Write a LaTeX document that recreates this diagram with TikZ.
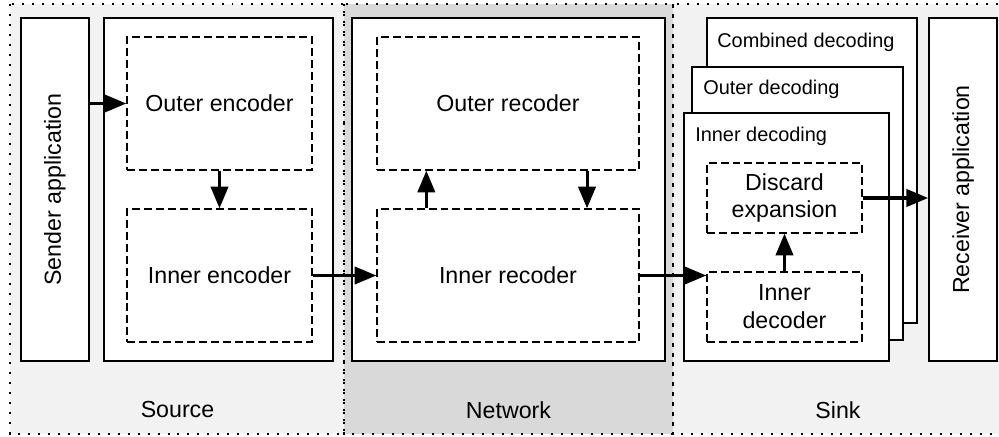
\documentclass[tikz,border=0pt]{standalone}
\usepackage{fontspec}
\setmainfont{Liberation Sans}
\usetikzlibrary{arrows.meta,calc}

\definecolor{zonelight}{HTML}{F2F2F2}
\definecolor{zonedark}{HTML}{D9D9D9}

\begin{document}
\begin{tikzpicture}[x=0.3mm,y=-0.3mm,
    box/.style={draw, line width=1.6pt, fill=white, inner sep=0pt, align=center,
        font=\fontsize{19.8}{23.8}\selectfont},
    dbox/.style={box, line width=1.2pt, dash pattern=on 6.8pt off 3.4pt},
    flow/.style={line width=2.6pt, -{Triangle[length=6.5mm,width=5.2mm]}},
    zone/.style={line width=1.7pt, dash pattern=on 1.7pt off 6.8pt},
    zonetxt/.style={font=\fontsize{19.8}{23.8}\selectfont},
    smalltxt/.style={anchor=west, inner sep=0pt, font=\fontsize{17}{20}\selectfont}]
    \useasboundingbox (0,0) rectangle (999,437);

    \fill[zonelight] (10,4) rectangle (344,434);
    \fill[zonedark] (344,4) rectangle (673,434);
    \fill[zonelight] (673,4) rectangle (1003,434);
    \draw[zone] (10,4) rectangle (344,434);
    \draw[zone] (344,4) rectangle (673,434);
    \draw[zone] (673,4) rectangle (1003,434);
    \node[zonetxt] (source) at (177.5,410) {Source};
    \node[zonetxt] (network) at (508.5,410) {Network};
    \node[zonetxt] (sink) at (838,410) {Sink};

    \node[box, minimum width=20.4mm, minimum height=102.9mm] (sender) at (55,189.5) {};
    \node[rotate=90, zonetxt] (sendertxt) at (sender.center) {Sender application};
    \node[box, minimum width=68.7mm, minimum height=102.9mm] (srcbox) at (218.5,189.5) {};
    \node[dbox, minimum width=55.5mm, minimum height=39.9mm] (outenc) at (219.5,103.5) {Outer encoder};
    \node[dbox, minimum width=55.5mm, minimum height=39.9mm] (inenc) at (219.5,275.5) {Inner encoder};

    \node[box, minimum width=93.9mm, minimum height=102.9mm] (netbox) at (508.5,189.5) {};
    \node[dbox, minimum width=78.6mm, minimum height=39.9mm] (outrec) at (508,103.5) {Outer recoder};
    \node[dbox, minimum width=78.6mm, minimum height=39.9mm] (inrec) at (508,275.5) {Inner recoder};

    \node[box, minimum width=63mm, minimum height=91.5mm] (comb) at (812,170.5) {};
    \node[smalltxt] (combtxt) at ([shift={(3.3mm,-7.5mm)}]comb.north west) {Combined decoding};
    \node[box, minimum width=63.3mm, minimum height=81.9mm] (outdec) at (797.5,203.5) {};
    \node[smalltxt] (outdectxt) at ([shift={(3.6mm,-7mm)}]outdec.north west) {Outer decoding};
    \node[box, minimum width=61.5mm, minimum height=74.4mm] (indecg) at (786.5,237) {};
    \node[smalltxt] (indecgtxt) at ([shift={(3.6mm,-7.2mm)}]indecg.north west) {Inner decoding};
    \node[dbox, minimum width=46.5mm, minimum height=21mm] (discard) at (784.5,198) {Discard\\expansion};
    \node[dbox, minimum width=46.5mm, minimum height=21mm] (indec) at (784.5,307) {Inner\\decoder};

    \node[box, minimum width=20.4mm, minimum height=102.9mm] (recv) at (963,189.5) {};
    \node[rotate=90, zonetxt] (recvtxt) at (recv.center) {Receiver application};

    \draw[flow] (sender.east |- outenc.west) -- (outenc.west);
    \draw[flow] (outenc.south) -- (inenc.north);
    \draw[flow] (inenc.east) -- (inrec.west);
    \draw[flow] ($(inrec.north west)!0.19!(inrec.north east)$) -- ($(outrec.south west)!0.19!(outrec.south east)$);
    \draw[flow] ($(outrec.south west)!0.8!(outrec.south east)$) -- ($(inrec.north west)!0.8!(inrec.north east)$);
    \draw[flow] (inrec.east) -- (inrec.east -| indec.west);
    \draw[flow] (indec.north) -- (discard.south);
    \draw[flow] (discard.east) -- (discard.east -| recv.west);
\end{tikzpicture}
\end{document}
